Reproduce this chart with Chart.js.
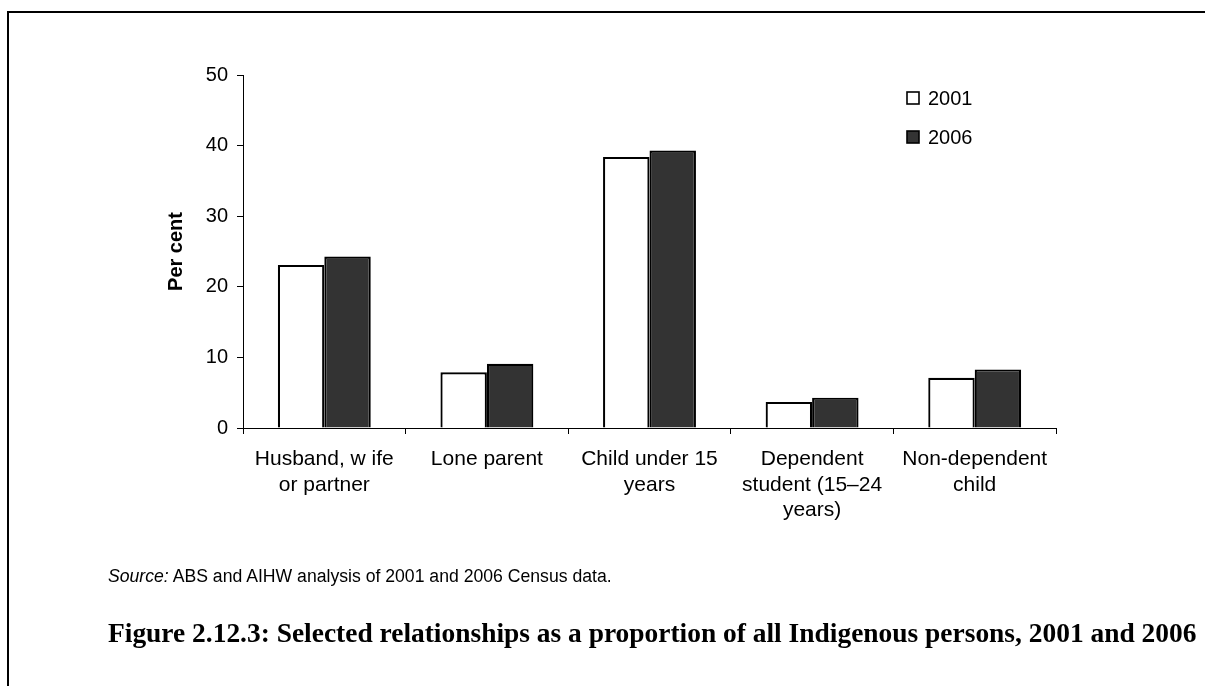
<!DOCTYPE html>
<html>
<head>
<meta charset="utf-8">
<script src="https://cdn.jsdelivr.net/npm/chart.js@4"></script>
<style>
  html, body { margin:0; padding:0; background:#fff; }
  body { width:1205px; height:686px; position:relative; overflow:hidden; }
  #frame { position:absolute; left:7px; top:11px; width:1198px; height:675px;
           border-top:2px solid #000; border-left:2px solid #000; box-sizing:border-box; }
  #c { position:absolute; left:0; top:0; }
  #source { position:absolute; left:108px; top:568px; font-family:"Liberation Sans", Arial, sans-serif;
            font-size:14px; color:#000; white-space:nowrap; line-height:1; }
  #title { position:absolute; left:108px; top:620px; font-family:"Liberation Serif", serif; font-weight:bold;
           font-size:22px; color:#000; white-space:nowrap; line-height:1; }
</style>
</head>
<body>
<div id="frame"></div>
<canvas id="c" width="1205" height="686"></canvas>
<div id="source"><i>Source:</i> ABS and AIHW analysis of 2001 and 2006 Census data.</div>
<div id="title">Figure 2.12.3: Selected relationships as a proportion of all Indigenous persons, 2001 and 2006</div>
<script>
const categories = [
  ["Husband, w ife", "or partner"],
  ["Lone parent"],
  ["Child under 15", "years"],
  ["Dependent", "student (15\u201324", "years)"],
  ["Non-dependent", "child"]
];
const seriesNames = ["2001", "2006"];
const values2001 = [23.1, 7.9, 38.4, 3.7, 7.1];
const values2006 = [24.3, 9.1, 39.3, 4.3, 8.3];
const yTicks = [0, 10, 20, 30, 40, 50];
const yTitle = "Per cent";

const FONT = '"Liberation Sans", Arial, sans-serif';

const legendPlugin = {
  id: 'customLegend',
  afterDraw(chart) {
    const ctx = chart.ctx;
    ctx.save();
    chart.data.datasets.forEach((ds, i) => {
      const y = 98 + i * 39;
      ctx.fillStyle = ds.backgroundColor;
      ctx.fillRect(907, y - 6, 12, 12);
      ctx.strokeStyle = '#000';
      ctx.lineWidth = 1.6;
      ctx.strokeRect(907, y - 6, 12, 12);
      ctx.fillStyle = '#000';
      ctx.font = '20px ' + FONT;
      ctx.textBaseline = 'middle';
      ctx.textAlign = 'left';
      ctx.fillText(ds.label, 928, y + 1);
    });
    ctx.restore();
  }
};

new Chart(document.getElementById('c'), {
  type: 'bar',
  data: {
    labels: categories,
    datasets: [
      { label: seriesNames[0], data: values2001, backgroundColor: '#ffffff', borderColor: '#000', borderWidth: 2.2,
        barPercentage: 1, categoryPercentage: 2/3.5 },
      { label: seriesNames[1], data: values2006, backgroundColor: '#333333', borderColor: '#000', borderWidth: 2.2,
        barPercentage: 1, categoryPercentage: 2/3.5 }
    ]
  },
  options: {
    responsive: false,
    animation: false,
    devicePixelRatio: 1,
    layout: { padding: { left: 160, top: 75, right: 149, bottom: 0 } },
    plugins: { legend: { display: false }, tooltip: { enabled: false } },
    scales: {
      x: {
        offset: true,
        grid: { offset: true, drawOnChartArea: false, tickLength: 6, color: '#000', lineWidth: 1 },
        border: { display: true, color: '#000', width: 1 },
        ticks: { color: '#000', font: { family: FONT, size: 21, lineHeight: 1.2 }, padding: 13, maxRotation: 0, autoSkip: false },
        afterFit: (s) => { s.height = 258; }
      },
      y: {
        min: 0, max: 50,
        afterBuildTicks: (s) => { s.ticks = yTicks.map(v => ({ value: v })); },
        grid: { drawOnChartArea: false, tickLength: 6, color: '#000', lineWidth: 1 },
        border: { display: true, color: '#000', width: 1 },
        ticks: { color: '#000', font: { family: FONT, size: 20 }, padding: 9 },
        title: { display: true, text: yTitle, color: '#000', font: { family: FONT, size: 20, weight: 'bold' }, padding: { top: 4, bottom: 4 } },
        afterFit: (s) => { s.width = 83; }
      }
    }
  },
  plugins: [legendPlugin]
});

function fit(id, target) {
  const el = document.getElementById(id);
  const w = el.getBoundingClientRect().width;
  const fs = parseFloat(getComputedStyle(el).fontSize);
  el.style.fontSize = (fs * target / w) + 'px';
}
fit('source', 504);
fit('title', 1089);
</script>
</body>
</html>
